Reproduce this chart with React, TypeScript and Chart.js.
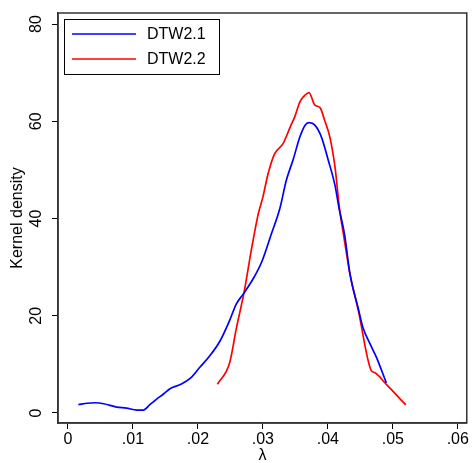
import React, { useEffect, useRef } from "react";
import { Chart, registerables } from "chart.js";

Chart.register(...registerables);

const seriesLabels = ["DTW2.1", "DTW2.2"];
const seriesColors = ["#0000ff", "#ff0000"];

const blueX = [0.0016, 0.003, 0.0042, 0.0055, 0.0075, 0.009, 0.0106, 0.0116, 0.0126, 0.0136, 0.0147, 0.0157, 0.0172, 0.0188, 0.0203, 0.0218, 0.0234, 0.0249, 0.0259, 0.027, 0.0285, 0.0298, 0.0313, 0.0326, 0.0336, 0.0347, 0.0357, 0.0365, 0.0371, 0.038, 0.039, 0.04, 0.0411, 0.0417, 0.0426, 0.0434, 0.0447, 0.0454, 0.0465, 0.0475, 0.049];
const blueY = [1.7, 2.0, 2.1, 1.9, 1.2, 1.0, 0.6, 0.6, 1.7, 2.8, 3.9, 5.0, 5.8, 7.1, 9.4, 11.7, 14.8, 19.1, 22.4, 24.5, 27.6, 31.0, 36.8, 42.0, 47.8, 52.3, 56.8, 59.2, 59.7, 59.2, 56.8, 52.3, 46.8, 42.3, 36.5, 28.6, 21.4, 17.6, 14.2, 11.4, 6.2];

const redX = [0.023, 0.0249, 0.0259, 0.0271, 0.0283, 0.0293, 0.03, 0.0308, 0.0318, 0.0331, 0.0342, 0.0349, 0.0357, 0.0365, 0.0371, 0.038, 0.0388, 0.0395, 0.0403, 0.0411, 0.0418, 0.0424, 0.0434, 0.0447, 0.0467, 0.0472, 0.049, 0.05, 0.052];
const redY = [5.9, 10.4, 17.3, 24.8, 34.1, 41.0, 44.4, 49.2, 53.3, 55.4, 58.8, 60.9, 64.0, 65.4, 65.9, 63.3, 62.8, 60.2, 56.8, 50.6, 42.0, 36.8, 28.6, 21.0, 8.7, 8.3, 5.9, 4.5, 1.65];

const xTicks = [0, 0.01, 0.02, 0.03, 0.04, 0.05, 0.06];
const xTickLabels = ["0", ".01", ".02", ".03", ".04", ".05", ".06"];
const yTicks = [0, 20, 40, 60, 80];
const yTickLabels = ["0", "20", "40", "60", "80"];

const FONT = "'Liberation Sans', Arial, Helvetica, sans-serif";

const frameAndLabels = {
  id: "frameAndLabels",
  afterDraw(chart: any) {
    const { ctx, chartArea } = chart;
    const ys = chart.scales.y;
    ctx.save();
    // plot frame
    ctx.strokeStyle = "#333";
    ctx.lineWidth = 1.5;
    ctx.strokeRect(chartArea.left, chartArea.top, chartArea.right - chartArea.left, chartArea.bottom - chartArea.top);
    // y tick labels (rotated)
    ctx.fillStyle = "#000";
    ctx.font = `16px ${FONT}`;
    ctx.textAlign = "center";
    ctx.textBaseline = "middle";
    yTicks.forEach((v, i) => {
      const py = ys.getPixelForValue(v);
      ctx.save();
      ctx.translate(chartArea.left - 21, py);
      ctx.rotate(-Math.PI / 2);
      ctx.fillText(yTickLabels[i], 0, 0);
      ctx.restore();
    });
    // legend
    const bx = chartArea.left + 6;
    const by = chartArea.top + 6;
    const bw = 155;
    const bh = 55;
    ctx.strokeStyle = "#000";
    ctx.lineWidth = 1;
    ctx.strokeRect(bx + 0.5, by + 0.5, bw, bh);
    ctx.textAlign = "left";
    chart.data.datasets.forEach((ds: any, i: number) => {
      const ly = by + 15 + i * 25;
      ctx.strokeStyle = ds.borderColor;
      ctx.lineWidth = 1.5;
      ctx.beginPath();
      ctx.moveTo(bx + 8, ly);
      ctx.lineTo(bx + 72, ly);
      ctx.stroke();
      ctx.fillStyle = "#000";
      ctx.fillText(ds.label, bx + 83, ly + 1);
    });
    ctx.restore();
  },
};

export default function App() {
  const ref = useRef<HTMLCanvasElement | null>(null);
  useEffect(() => {
    if (!ref.current) return;
    const chart = new Chart(ref.current, {
      type: "line",
      data: {
        datasets: [
          {
            label: seriesLabels[0],
            data: blueX.map((x, i) => ({ x, y: blueY[i] })),
            borderColor: seriesColors[0],
            borderWidth: 1.7,
            pointRadius: 0,
            fill: false,
            cubicInterpolationMode: "monotone",
          },
          {
            label: seriesLabels[1],
            data: redX.map((x, i) => ({ x, y: redY[i] })),
            borderColor: seriesColors[1],
            borderWidth: 1.7,
            pointRadius: 0,
            fill: false,
            cubicInterpolationMode: "monotone",
          },
        ],
      },
      options: {
        animation: false,
        responsive: false,
        maintainAspectRatio: false,
        layout: { padding: { top: 13, right: 5, left: 0, bottom: 0 } },
        plugins: { legend: { display: false }, tooltip: { enabled: false } },
        scales: {
          x: {
            type: "linear",
            min: -10 / 6500,
            max: 399 / 6500,
            afterBuildTicks: (s: any) => {
              s.ticks = xTicks.map((v) => ({ value: v }));
            },
            ticks: {
              color: "#000",
              font: { family: FONT, size: 16, lineHeight: 1 },
              padding: 3,
              maxRotation: 0,
              minRotation: 0,
              autoSkip: false,
              callback: (v: any) => {
                const i = xTicks.findIndex((t) => Math.abs(t - v) < 1e-9);
                return i >= 0 ? xTickLabels[i] : "";
              },
            },
            grid: { display: true, drawOnChartArea: false, drawTicks: true, tickLength: 6, color: "#000", lineWidth: 1 },
            border: { display: true, color: "#333", width: 1.5 },
            title: {
              display: true,
              text: "λ",
              color: "#000",
              font: { family: FONT, size: 16, lineHeight: 1 },
              padding: { top: -3, bottom: -1 },
            },
          },
          y: {
            type: "linear",
            min: -10 / 4.85,
            max: 80 + 11 / 4.85,
            afterBuildTicks: (s: any) => {
              s.ticks = yTicks.map((v) => ({ value: v }));
            },
            ticks: { display: false },
            grid: { display: true, drawOnChartArea: false, drawTicks: true, tickLength: 6, color: "#000", lineWidth: 1 },
            border: { display: true, color: "#333", width: 1.5 },
            title: {
              display: true,
              text: "Kernel density",
              color: "#000",
              font: { family: FONT, size: 16, lineHeight: 1.2 },
              padding: { top: 8.4, bottom: 24.4 },
            },
          },
        },
      },
      plugins: [frameAndLabels],
    });
    return () => chart.destroy();
  }, []);
  return (
    <div style={{ position: "fixed", left: 0, top: 0, width: 472, height: 463, background: "#fff" }}>
      <canvas ref={ref} width={472} height={463} style={{ display: "block" }} />
    </div>
  );
}
